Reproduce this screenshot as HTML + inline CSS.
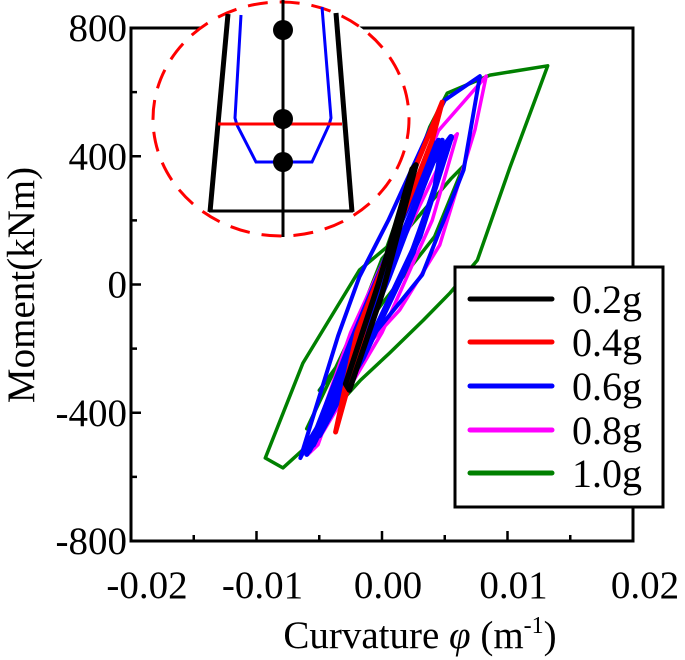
<!DOCTYPE html>
<html><head><meta charset="utf-8"><style>
html,body{margin:0;padding:0;background:#fff;}
svg{display:block;font-family:"Liberation Serif",serif;}
</style></head><body>
<svg id="chart" width="685" height="660" viewBox="0 0 685 660">
<g id="plot"></g>
</svg>
<script>
const xTicks=[-0.02,-0.01,0.00,0.01,0.02];
const xTickLabels=["-0.02","-0.01","0.00","0.01","0.02"];
const yTicks=[800,400,0,-400,-800];
const yTickLabels=["800","400","0","-400","-800"];
const seriesNames=["0.2g","0.4g","0.6g","0.8g","1.0g"];
const seriesColors=["#000000","#ff0000","#0000ff","#ff00ff","#008000"];
// 1.0g
const g10Phi=[-0.0093,-0.0063,-0.0018,0.0004,0.0038,0.0052,0.0086,0.0132,0.0124,0.0102,0.0076,0.0054,0.0033,0.0006,-0.0017,-0.0041,-0.0057,-0.0079,-0.0093];
const g10M=[-541,-245,45,117,491,597,653,682,597,366,76,-27,-111,-214,-298,-401,-494,-572,-541];
const g10bPhi=[-0.006,-0.002,0.0,0.0055,0.0065,0.0042,0.0,-0.005];
const g10bM=[-450,-120,80,330,370,150,-60,-330];
// 0.8g
const g08Phi=[-0.0059,-0.0025,0.001,0.0045,0.0083,0.0074,0.0046,0.0014,-0.003,-0.0051,-0.0059];
const g08M=[-530,-150,150,480,650,482,123,-80,-267,-500,-530];
const g08bPhi=[-0.005,0.0,0.0055,0.006,0.004,0.0,-0.005];
const g08bM=[-480,0,450,470,200,-150,-480];
// 0.6g
const g06Phi=[-0.0065,-0.0035,-0.0018,0.0005,0.0038,0.005,0.0078,0.0065,0.0032,-0.001,-0.0058,-0.0065];
const g06M=[-541,-160,24,200,482,575,650,357,30,-173,-485,-541];
const g06bPhi=[-0.0058,-0.002,0.0025,0.0048,0.0042,0.002,-0.002,-0.0058];
const g06bM=[-520,-150,230,450,300,60,-250,-520];
const g06cPhi=[-0.005,0.0,0.004,0.0055,0.003,-0.001,-0.005];
const g06cM=[-470,0,380,460,150,-180,-470];
const g06dPhi=[-0.0055,-0.0015,0.002,0.0042,0.0035,0.0005,-0.003,-0.0055];
const g06dM=[-500,-100,250,440,330,20,-300,-500];
const g06ePhi=[-0.006,-0.0025,0.001,0.0045,0.0052,0.0025,-0.0015,-0.006];
const g06eM=[-530,-180,150,450,420,100,-230,-530];
// 0.4g
const g04Phi=[-0.0037,-0.001,0.0025,0.0048,0.004,0.001,-0.002,-0.0037];
const g04M=[-460,-80,350,569,450,150,-150,-460];
// 0.2g
const g02Phi=[-0.0026,0.0,0.0027,0.0024,-0.0003,-0.0029,-0.0026];
const g02M=[-329,-30,373,360,0,-310,-329];

const NS="http://www.w3.org/2000/svg";
const L=131,R=633,T=28,B=541;
const xS=v=>L+(v+0.02)/0.04*(R-L);
const yS=v=>B-(v+800)/1600*(B-T);
const svg=document.getElementById('chart');
function mk(tag,attrs,parent){const e=document.createElementNS(NS,tag);for(const k in attrs)e.setAttribute(k,attrs[k]);(parent||svg).appendChild(e);return e;}
function loop(phi,m,color,w,name){
  const d=phi.map((p,i)=>(i?'L':'M')+xS(p).toFixed(1)+','+yS(m[i]).toFixed(1)).join(' ');
  const p=mk('path',{d:d,fill:'none',stroke:color,'stroke-width':w,'stroke-linejoin':'round','stroke-linecap':'round'});
  
  
}
loop(g10Phi,g10M,seriesColors[4],3.5,'series-1-0g');
loop(g10bPhi,g10bM,seriesColors[4],3.5,'series-1-0g-inner');
loop(g08Phi,g08M,seriesColors[3],3.5,'series-0-8g');
loop(g08bPhi,g08bM,seriesColors[3],3.5,'series-0-8g-inner');
loop(g06Phi,g06M,seriesColors[2],4,'series-0-6g');
loop(g06bPhi,g06bM,seriesColors[2],5,'series-0-6g-inner');
loop(g06cPhi,g06cM,seriesColors[2],6,'series-0-6g-inner2');
loop(g06dPhi,g06dM,seriesColors[2],6,'series-0-6g-inner3');
loop(g06ePhi,g06eM,seriesColors[2],5,'series-0-6g-inner4');
loop(g04Phi,g04M,seriesColors[1],5,'series-0-4g');
loop(g02Phi,g02M,seriesColors[0],5.5,'series-0-2g');

const fr=mk('rect',{x:L,y:T,width:R-L,height:B-T,fill:'none',stroke:'#000','stroke-width':3});


for(let i=0;i<=8;i++){
  const v=-0.02+i*0.005;
  const len=(i%2===0)?10:6;
  const t=mk('line',{x1:xS(v),x2:xS(v),y1:B,y2:B-len,stroke:'#000','stroke-width':2.5});
  
  
}
for(let i=0;i<=8;i++){
  const v=-800+i*200;
  const len=(i%2===0)?10:6;
  const t=mk('line',{x1:L,x2:L+len,y1:yS(v),y2:yS(v),stroke:'#000','stroke-width':2.5});
  
  
}
xTicks.forEach((v,i)=>{
  const t=mk('text',{x:xS(v)+(i===0?16:i===4?12:6),y:598,'text-anchor':'middle','font-size':39});
  t.textContent=xTickLabels[i];
  
  
});
yTicks.forEach((v,i)=>{
  const t=mk('text',{x:127,y:yS(v)+13,'text-anchor':'end','font-size':39});
  t.textContent=yTickLabels[i];
  
  
});
const xt=mk('text',{x:420,y:648,'text-anchor':'middle','font-size':39});
xt.innerHTML='Curvature <tspan font-style="italic">φ</tspan> (m<tspan font-size="24" dy="-15">-1</tspan><tspan dy="15">)</tspan>';


const yt=mk('text',{x:0,y:0,'text-anchor':'middle','font-size':39,transform:'translate(34,285) rotate(-90)'});
yt.textContent='Moment(kNm)';



const lg=mk('g',{});


mk('rect',{x:455,y:267,width:208,height:240,fill:'#fff',stroke:'#000','stroke-width':3},lg);
const legY=[299,342,386,430,473];
seriesNames.forEach((n,i)=>{
  const e=mk('g',{},lg);
  
  
  mk('line',{x1:470,x2:552,y1:legY[i],y2:legY[i],stroke:seriesColors[i],'stroke-width':5,'stroke-linecap':'round'},e);
  const t=mk('text',{x:572,y:legY[i]+14,'font-size':40},e);
  t.textContent=n;
});

const ins=mk('g',{});


mk('ellipse',{cx:281,cy:119,rx:128,ry:117,fill:'#fff',stroke:'#ff0000','stroke-width':3,'stroke-dasharray':'20 12'},ins);
mk('line',{x1:283,y1:0,x2:283,y2:237,stroke:'#000','stroke-width':3},ins);
mk('line',{x1:228,y1:14,x2:210,y2:212,stroke:'#000','stroke-width':5},ins);
mk('line',{x1:336,y1:13,x2:352,y2:212,stroke:'#000','stroke-width':5},ins);
mk('line',{x1:209,y1:211,x2:353,y2:211,stroke:'#000','stroke-width':3},ins);
mk('polyline',{points:'241,15 235,118 237,125 256,162 312,162 329,125 331,118 322,7',fill:'none',stroke:'#0000ff','stroke-width':3},ins);
mk('line',{x1:218,y1:124,x2:342,y2:124,stroke:'#ff0000','stroke-width':3},ins);
[30,119,162].forEach(y=>mk('circle',{cx:283,cy:y,r:10,fill:'#000'},ins));
</script>
</body></html>
